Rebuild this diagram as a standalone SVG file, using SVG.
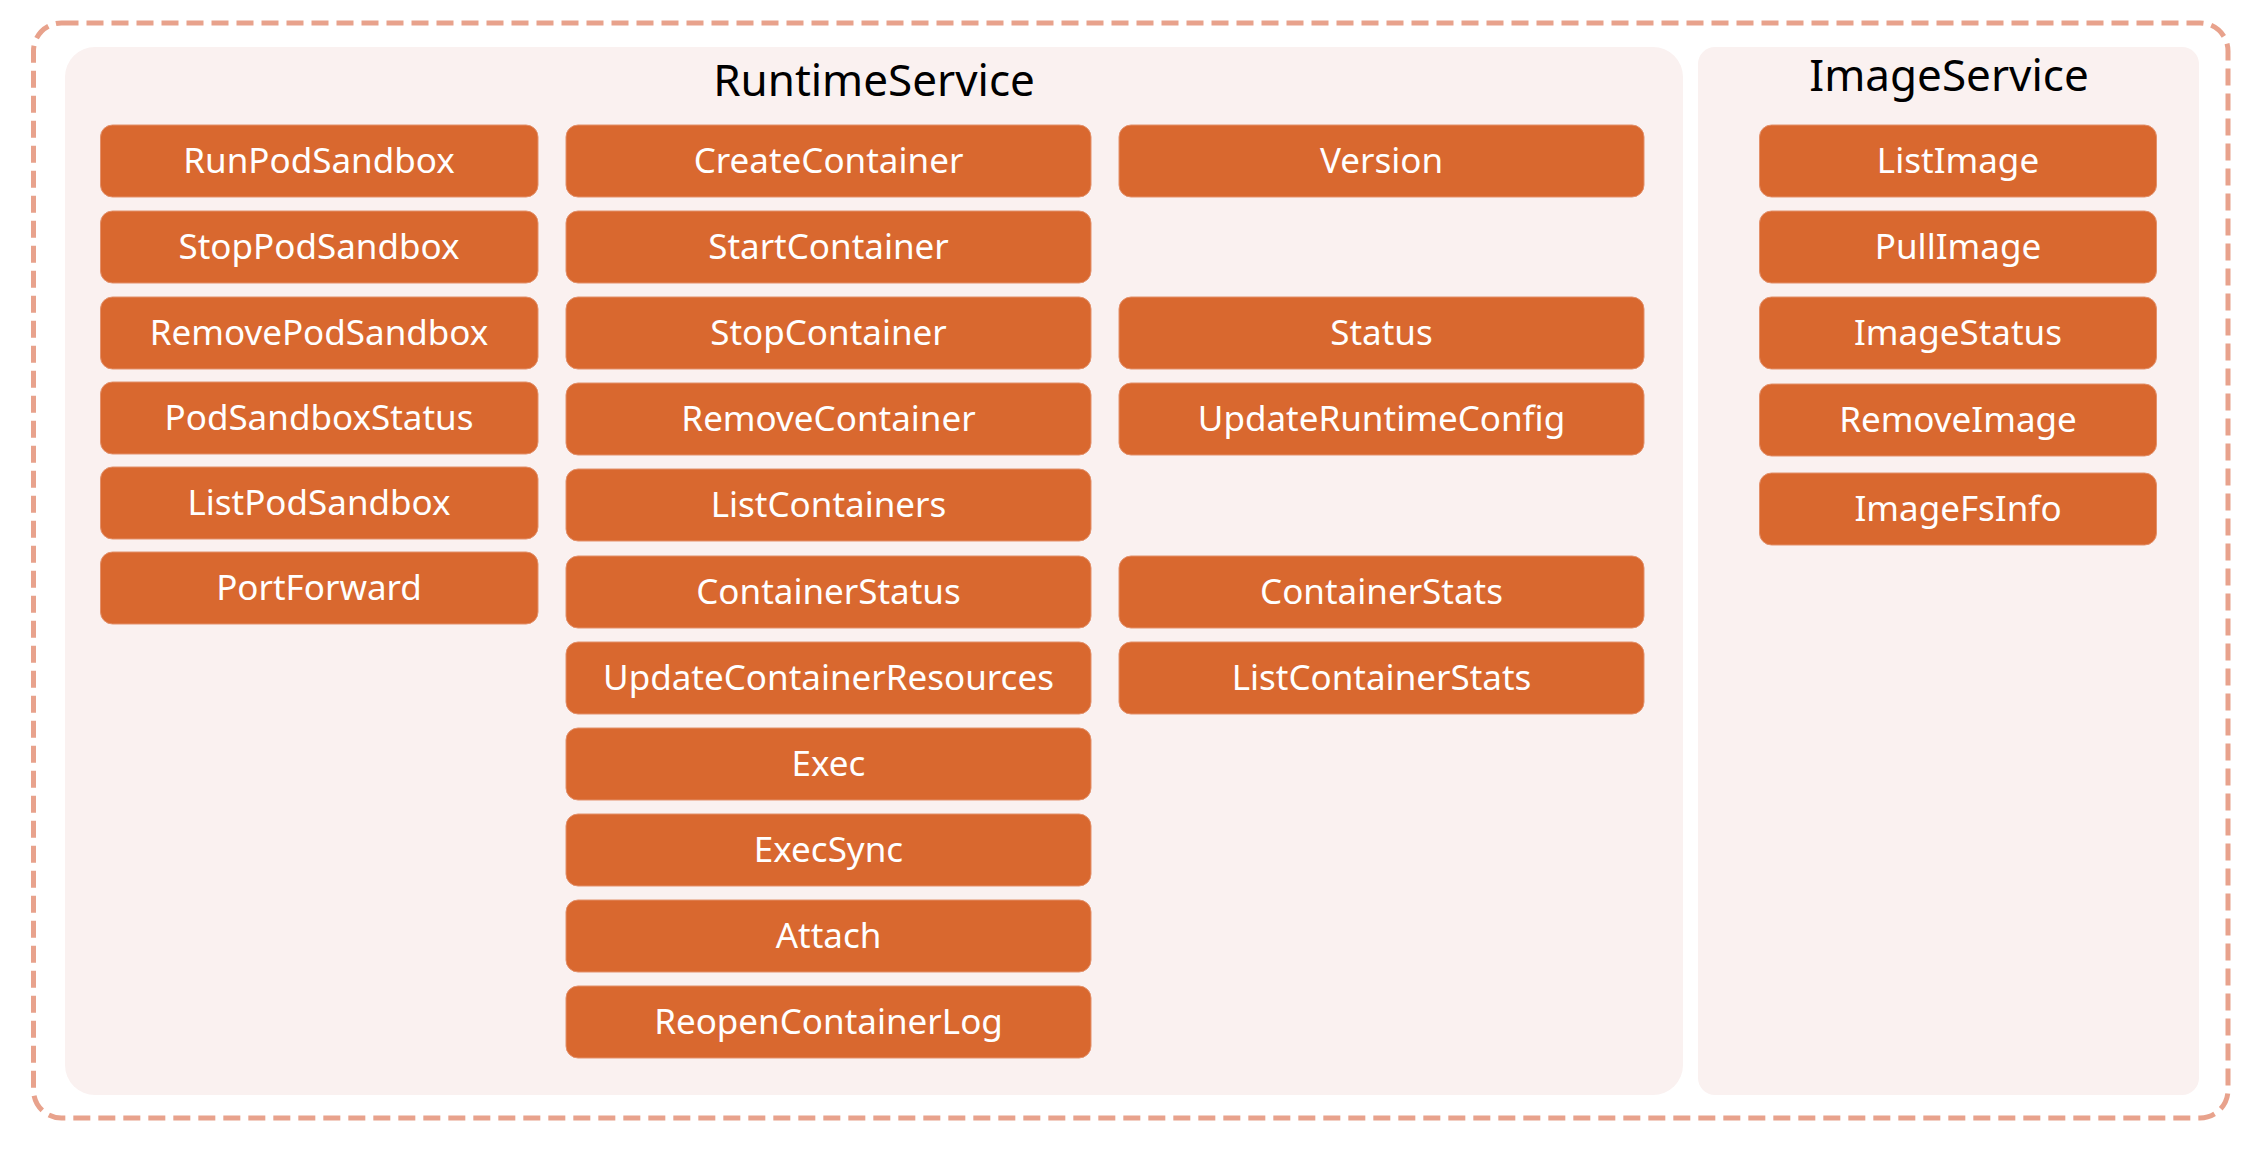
<svg xmlns="http://www.w3.org/2000/svg" width="2250" height="1150" viewBox="0 0 2250 1150">
<style>
.outer{fill:none;stroke:#E8A28C;stroke-width:5;stroke-dasharray:17 8}
.panel{fill:#FAF1F0}
.btn{fill:#D9682F;stroke:#E3906A;stroke-width:1}
.t{font-family:"Noto Sans","Open Sans",sans-serif;font-size:35px;fill:#FFFFFF;text-anchor:middle}
.title{font-family:"Noto Sans","Open Sans",sans-serif;font-size:44px;fill:#000000;text-anchor:middle}
</style>
<rect width="2250" height="1150" fill="#FFFFFF"/>
<rect class="outer" x="33.5" y="23" width="2194.5" height="1095" rx="28" ry="28"/>
<g id="RuntimeService">
<rect class="panel" x="65" y="47" width="1618" height="1048" rx="30" ry="30"/>
<text class="title" x="874" y="96">RuntimeService</text>
</g>
<g id="ImageService">
<rect class="panel" x="1698" y="47" width="501" height="1048" rx="17" ry="17"/>
<text class="title" x="1949" y="91">ImageService</text>
</g>
<g id="RunPodSandbox"><rect class="btn" x="100.5" y="125" width="437.5" height="72" rx="12"/><text class="t" x="319" y="172.5">RunPodSandbox</text></g>
<g id="StopPodSandbox"><rect class="btn" x="100.5" y="211" width="437.5" height="72" rx="12"/><text class="t" x="319" y="258.5">StopPodSandbox</text></g>
<g id="RemovePodSandbox"><rect class="btn" x="100.5" y="297" width="437.5" height="72" rx="12"/><text class="t" x="319" y="344.5">RemovePodSandbox</text></g>
<g id="PodSandboxStatus"><rect class="btn" x="100.5" y="382" width="437.5" height="72" rx="12"/><text class="t" x="319" y="429.5">PodSandboxStatus</text></g>
<g id="ListPodSandbox"><rect class="btn" x="100.5" y="467" width="437.5" height="72" rx="12"/><text class="t" x="319" y="514.5">ListPodSandbox</text></g>
<g id="PortForward"><rect class="btn" x="100.5" y="552" width="437.5" height="72" rx="12"/><text class="t" x="319" y="599.5">PortForward</text></g>
<g id="CreateContainer"><rect class="btn" x="566" y="125" width="525" height="72" rx="12"/><text class="t" x="828.5" y="172.5">CreateContainer</text></g>
<g id="StartContainer"><rect class="btn" x="566" y="211" width="525" height="72" rx="12"/><text class="t" x="828.5" y="258.5">StartContainer</text></g>
<g id="StopContainer"><rect class="btn" x="566" y="297" width="525" height="72" rx="12"/><text class="t" x="828.5" y="344.5">StopContainer</text></g>
<g id="RemoveContainer"><rect class="btn" x="566" y="383" width="525" height="72" rx="12"/><text class="t" x="828.5" y="430.5">RemoveContainer</text></g>
<g id="ListContainers"><rect class="btn" x="566" y="469" width="525" height="72" rx="12"/><text class="t" x="828.5" y="516.5">ListContainers</text></g>
<g id="ContainerStatus"><rect class="btn" x="566" y="556" width="525" height="72" rx="12"/><text class="t" x="828.5" y="603.5">ContainerStatus</text></g>
<g id="UpdateContainerResources"><rect class="btn" x="566" y="642" width="525" height="72" rx="12"/><text class="t" x="828.5" y="689.5">UpdateContainerResources</text></g>
<g id="Exec"><rect class="btn" x="566" y="728" width="525" height="72" rx="12"/><text class="t" x="828.5" y="775.5">Exec</text></g>
<g id="ExecSync"><rect class="btn" x="566" y="814" width="525" height="72" rx="12"/><text class="t" x="828.5" y="861.5">ExecSync</text></g>
<g id="Attach"><rect class="btn" x="566" y="900" width="525" height="72" rx="12"/><text class="t" x="828.5" y="947.5">Attach</text></g>
<g id="ReopenContainerLog"><rect class="btn" x="566" y="986" width="525" height="72" rx="12"/><text class="t" x="828.5" y="1033.5">ReopenContainerLog</text></g>
<g id="Version"><rect class="btn" x="1119" y="125" width="525" height="72" rx="12"/><text class="t" x="1381.5" y="172.5">Version</text></g>
<g id="Status"><rect class="btn" x="1119" y="297" width="525" height="72" rx="12"/><text class="t" x="1381.5" y="344.5">Status</text></g>
<g id="UpdateRuntimeConfig"><rect class="btn" x="1119" y="383" width="525" height="72" rx="12"/><text class="t" x="1381.5" y="430.5">UpdateRuntimeConfig</text></g>
<g id="ContainerStats"><rect class="btn" x="1119" y="556" width="525" height="72" rx="12"/><text class="t" x="1381.5" y="603.5">ContainerStats</text></g>
<g id="ListContainerStats"><rect class="btn" x="1119" y="642" width="525" height="72" rx="12"/><text class="t" x="1381.5" y="689.5">ListContainerStats</text></g>
<g id="ListImage"><rect class="btn" x="1759.5" y="125" width="397" height="72" rx="12"/><text class="t" x="1958" y="172.5">ListImage</text></g>
<g id="PullImage"><rect class="btn" x="1759.5" y="211" width="397" height="72" rx="12"/><text class="t" x="1958" y="258.5">PullImage</text></g>
<g id="ImageStatus"><rect class="btn" x="1759.5" y="297" width="397" height="72" rx="12"/><text class="t" x="1958" y="344.5">ImageStatus</text></g>
<g id="RemoveImage"><rect class="btn" x="1759.5" y="384" width="397" height="72" rx="12"/><text class="t" x="1958" y="431.5">RemoveImage</text></g>
<g id="ImageFsInfo"><rect class="btn" x="1759.5" y="473" width="397" height="72" rx="12"/><text class="t" x="1958" y="520.5">ImageFsInfo</text></g>
<g id="connectors"></g>
</svg>
